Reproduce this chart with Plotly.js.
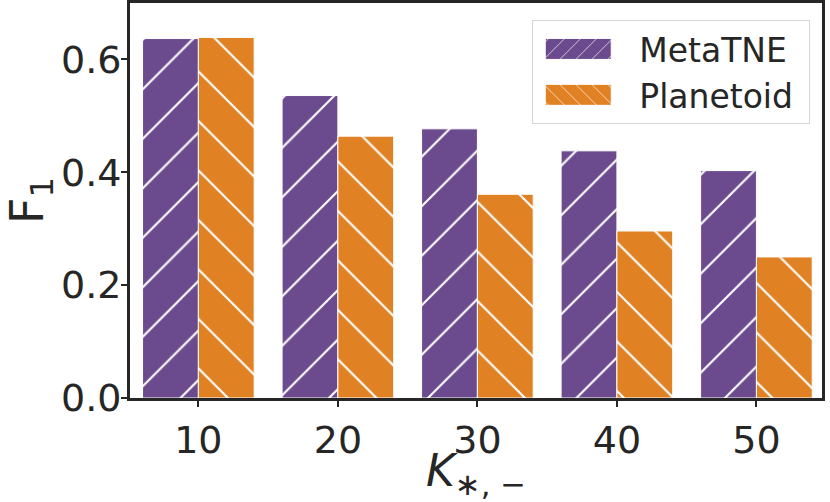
<!DOCTYPE html>
<html>
<head>
<meta charset="utf-8">
<script src="https://cdn.plot.ly/plotly-3.0.1.min.js"></script>
<style>
  html, body { margin: 0; padding: 0; background: #fff; }
  #chart { width: 830px; height: 502px; }
</style>
</head>
<body>
<div id="chart"></div>
<script>
// chart data
const kValues = ["10", "20", "30", "40", "50"];
const metaTNE = [0.637, 0.536, 0.477, 0.438, 0.403];
const planetoid = [0.639, 0.464, 0.361, 0.296, 0.250];
const yTicks = [0.0, 0.2, 0.4, 0.6];
const yTickLabels = ["0.0", "0.2", "0.4", "0.6"];

const ink = "#262626";
const font = "DejaVu Sans, sans-serif";

function hatchBar(name, values, color, shape) {
  return {
    type: "bar",
    name: name,
    x: kValues,
    y: values,
    marker: {
      color: color,
      line: { color: "#ffffff", width: 1 },
      pattern: {
        shape: shape,
        fgcolor: "#ffffff",
        bgcolor: color,
        size: 35,
        solidity: 0.06,
      },
    },
  };
}

// trailing nbsp gives the legend a bit of right padding
const traces = [
  hatchBar("MetaTNE\u00a0", metaTNE, "#6b4b8e", "/"),
  hatchBar("Planetoid\u00a0", planetoid, "#e08124", "\\"),
];

const layout = {
  width: 830,
  height: 502,
  margin: { l: 130, r: 8, t: 3, b: 104 },
  paper_bgcolor: "#ffffff",
  plot_bgcolor: "#ffffff",
  barmode: "group",
  bargap: 0.2,
  bargroupgap: 0,
  font: { family: font, color: ink, size: 38 },
  showlegend: true,
  legend: {
    x: 0.983,
    y: 0.957,
    xanchor: "right",
    yanchor: "top",
    bgcolor: "rgba(255,255,255,0.8)",
    bordercolor: "#d6d6d6",
    borderwidth: 1,
    font: { family: font, size: 33, color: ink },
    itemwidth: 96,
    tracegroupgap: 4,
  },
  xaxis: {
    type: "category",
    range: [-0.49, 4.47],
    showline: true,
    mirror: true,
    linecolor: ink,
    linewidth: 3,
    ticks: "outside",
    ticklen: 6,
    tickwidth: 2,
    tickcolor: ink,
    showgrid: false,
    zeroline: false,
    tickfont: { family: font, size: 38, color: ink },
    title: {
      text: "<i>K</i><sub>∗, −</sub>",
      font: { family: font, size: 44, color: ink },
      standoff: 8,
    },
  },
  yaxis: {
    range: [0, 0.70],
    tickvals: yTicks,
    ticktext: yTickLabels,
    showline: true,
    mirror: true,
    linecolor: ink,
    linewidth: 3,
    ticks: "outside",
    ticklen: 6,
    tickwidth: 2,
    tickcolor: ink,
    ticklabelstandoff: -8,
    showgrid: false,
    zeroline: false,
    tickfont: { family: font, size: 38, color: ink },
    title: {
      text: "F<sub>1</sub>",
      font: { family: font, size: 46, color: ink },
      standoff: 0,
    },
  },
};

Plotly.newPlot("chart", traces, layout, { displayModeBar: false, staticPlot: true }).then(function (gd) {
  // widen the legend swatches to look like matplotlib's hatched patches
  gd.querySelectorAll(".legend .legendpoints path").forEach(function (p) {
    p.setAttribute("d", "M25,10.5H-41V-10.5H25Z");
    const m = /url\(["']?#([^"')]+)["']?\)/.exec(p.style.fill || p.getAttribute("fill") || "");
    if (!m) return;
    const pat = document.getElementById(m[1]);
    if (!pat) return;
    const w = parseFloat(pat.getAttribute("width")) || 8;
    pat.setAttribute("patternTransform", "scale(" + (16 / w) + ")");
  });
});
</script>
</body>
</html>
